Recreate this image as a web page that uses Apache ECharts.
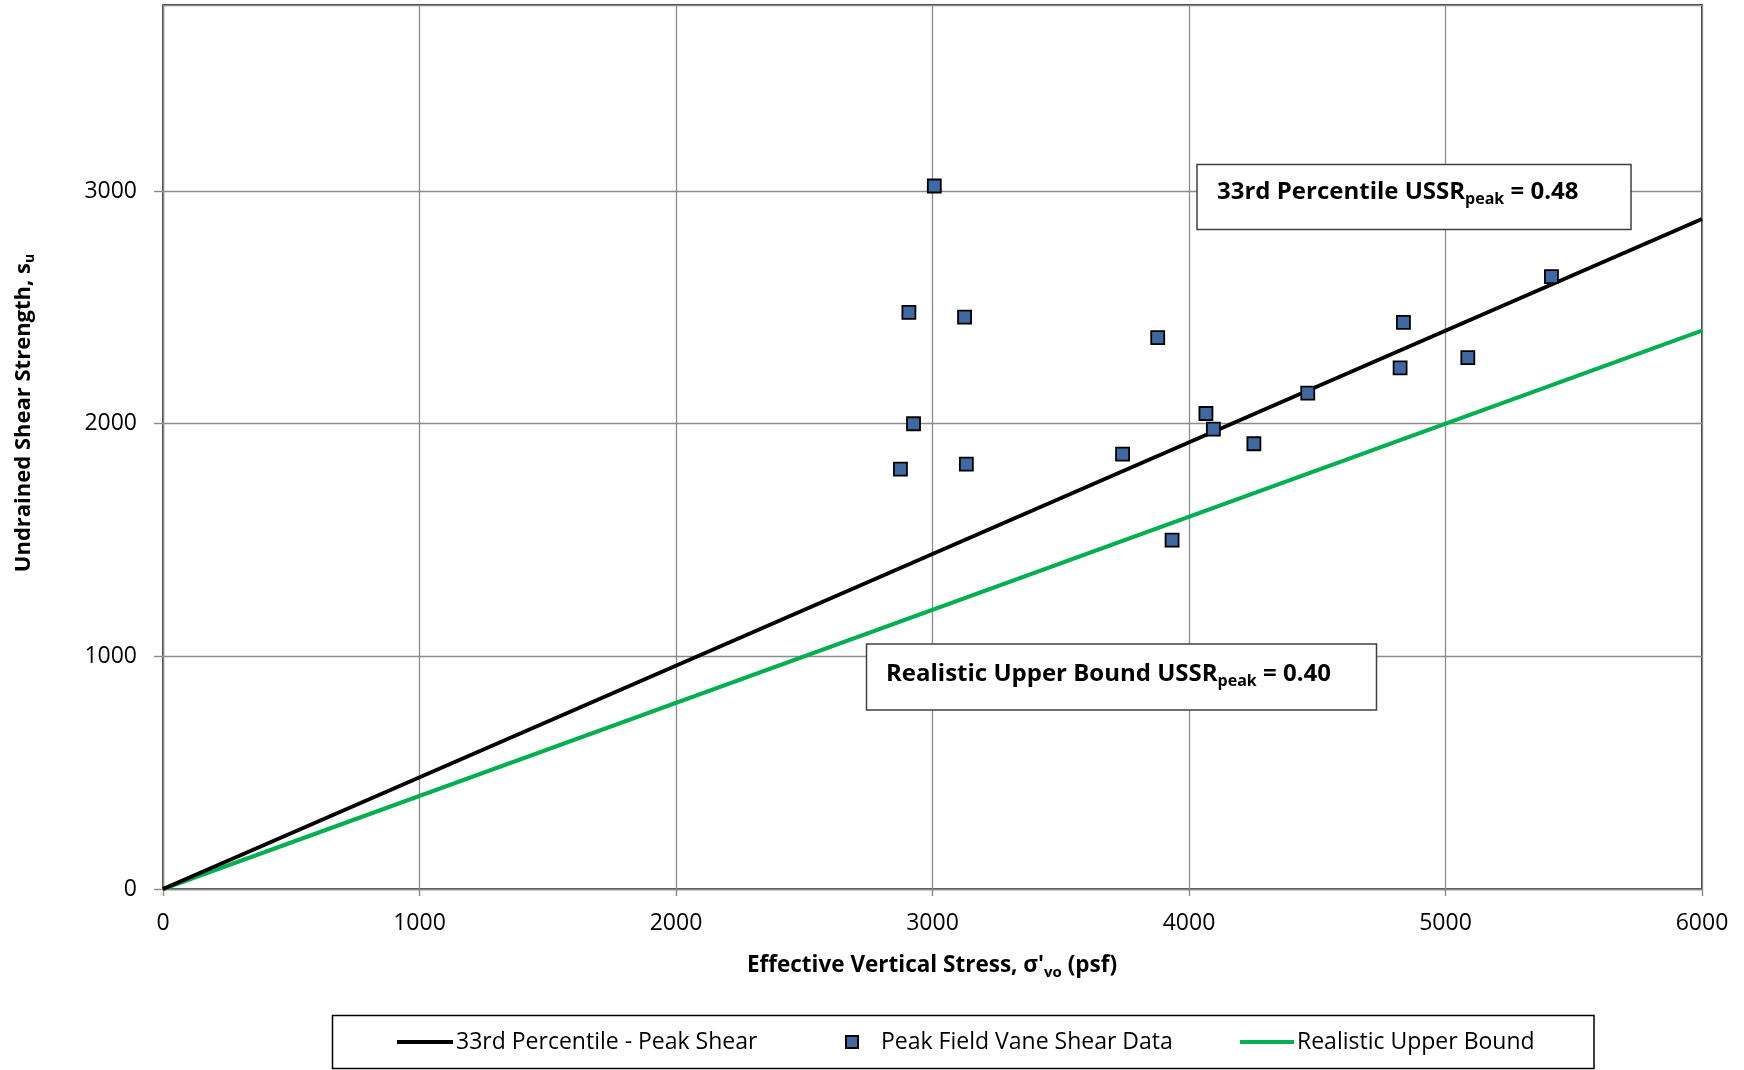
<!DOCTYPE html>
<html>
<head>
<meta charset="utf-8">
<title>Undrained Shear Strength vs Effective Vertical Stress</title>
<script src="https://cdn.jsdelivr.net/npm/echarts@6/dist/echarts.min.js"></script>
<style>
  html, body { margin: 0; padding: 0; background: #ffffff; }
  #chart { width: 1744px; height: 1070px; }
</style>
</head>
<body>
<div id="chart"></div>
<script>
// Peak field vane shear tests: effective vertical stress (psf) and undrained shear strength (psf)
const fieldVaneStress   = [3007, 2908, 3125, 3878, 2926, 2875, 3132, 3741, 4066, 4095, 4253, 3934, 4463, 4836, 4823, 5087, 5413];
const fieldVaneStrength = [3022, 2479, 2458, 2370, 2000, 1805, 1826, 1869, 2044, 1977, 1914, 1500, 2132, 2436, 2240, 2284, 2632];

// Strength-ratio lines (USSR_peak = 0.48 and 0.40), end points in psf
const percentile33Line = [[0, 0], [6000, 2880]];
const upperBoundLine   = [[0, 0], [6000, 2400]];

// Axis ranges and tick labels
const xTicks = [0, 1000, 2000, 3000, 4000, 5000, 6000];
const yTicks = [0, 1000, 2000, 3000];
const xMax = 6000;
const yMax = 3800;

const seriesNames = ['33rd Percentile - Peak Shear', 'Peak Field Vane Shear Data', 'Realistic Upper Bound'];

const FONT = '"Open Sans", "Noto Sans", sans-serif';
const GRID_COLOR = '#8c8c8c';

const chart = echarts.init(document.getElementById('chart'), null, { renderer: 'canvas' });

const scatterData = fieldVaneStress.map((x, i) => [x, fieldVaneStrength[i]]);

const legendText = { color: '#000', fontFamily: FONT, fontSize: 23, lineHeight: 26 };

const option = {
  animation: false,
  backgroundColor: '#ffffff',
  grid: {
    left: 163, right: 42, top: 5, bottom: 181,
    show: true, borderColor: '#000', borderWidth: 1.5,
    containLabel: false, outerBoundsMode: 'none'
  },
  xAxis: {
    type: 'value', min: 0, max: xMax, interval: 1000,
    axisLine: { show: true, onZero: false, lineStyle: { color: '#898989', width: 1.4 } },
    axisTick: { show: true, length: 7, lineStyle: { color: '#898989', width: 1.4 } },
    axisLabel: {
      margin: 23, color: '#000', fontFamily: FONT, fontSize: 23,
      formatter: v => (xTicks.indexOf(v) >= 0 ? String(v) : '')
    },
    splitLine: { show: true, lineStyle: { color: GRID_COLOR, width: 1.3 } }
  },
  yAxis: {
    type: 'value', min: 0, max: yMax, interval: 1000,
    axisLine: { show: true, onZero: false, lineStyle: { color: '#898989', width: 1.4 } },
    axisTick: { show: true, length: 9, lineStyle: { color: '#898989', width: 1.4 } },
    axisLabel: {
      margin: 26, color: '#000', fontFamily: FONT, fontSize: 23, showMaxLabel: false,
      formatter: v => (yTicks.indexOf(v) >= 0 ? String(v) : '')
    },
    splitLine: { show: true, lineStyle: { color: GRID_COLOR, width: 1.3 } }
  },
  legend: [
    {
      data: [seriesNames[0]], left: 397, top: 1029, selectedMode: false,
      icon: 'rect', itemWidth: 56, itemHeight: 4, itemGap: 0, padding: 0,
      textStyle: Object.assign({ padding: [0, 0, 0, -2] }, legendText)
    },
    {
      data: [seriesNames[1]], left: 845, top: 1029, selectedMode: false,
      itemWidth: 12, itemHeight: 12, itemGap: 0, padding: 0,
      textStyle: Object.assign({ padding: [0, 0, 0, 18] }, legendText)
    },
    {
      data: [seriesNames[2]], left: 1240, top: 1029, selectedMode: false,
      icon: 'rect', itemWidth: 54, itemHeight: 4, itemGap: 0, padding: 0,
      textStyle: Object.assign({ padding: [0, 0, 0, -2] }, legendText)
    }
  ],
  series: [
    {
      name: seriesNames[2], type: 'line', data: upperBoundLine,
      symbol: 'none', z: 2,
      lineStyle: { color: '#00B050', width: 4 },
      itemStyle: { color: '#00B050' }
    },
    {
      name: seriesNames[0], type: 'line', data: percentile33Line,
      symbol: 'none', z: 3,
      lineStyle: { color: '#000000', width: 4 },
      itemStyle: { color: '#000000' }
    },
    {
      name: seriesNames[1], type: 'scatter', data: scatterData,
      symbol: 'rect', symbolSize: 13, z: 4,
      itemStyle: { color: '#3E6AA1', borderColor: '#000000', borderWidth: 1.8, opacity: 1 }
    }
  ],
  graphic: [
    // legend frame
    {
      type: 'rect', z: 0, silent: true,
      shape: { x: 332.5, y: 1015.5, width: 1261.5, height: 53 },
      style: { fill: 'none', stroke: '#000', lineWidth: 1.5 }
    },
    // ratio annotation boxes
    {
      type: 'rect', z: 10, silent: true,
      shape: { x: 1197, y: 164.5, width: 434, height: 65 },
      style: { fill: '#ffffff', stroke: '#404040', lineWidth: 1.5 }
    },
    {
      type: 'text', z: 11, silent: true, x: 1217, y: 192,
      style: {
        text: '{b|33rd Percentile USSR}{s|peak}{b| = 0.48}',
        verticalAlign: 'middle', align: 'left',
        rich: {
          b: { fontFamily: FONT, fontWeight: 'bold', fontSize: 24, fill: '#000', lineHeight: 30 },
          s: { fontFamily: FONT, fontWeight: 'bold', fontSize: 16, fill: '#000', padding: [14, 0, 0, 0], lineHeight: 16 }
        }
      }
    },
    {
      type: 'rect', z: 10, silent: true,
      shape: { x: 866.5, y: 644, width: 510, height: 66 },
      style: { fill: '#ffffff', stroke: '#404040', lineWidth: 1.5 }
    },
    {
      type: 'text', z: 11, silent: true, x: 886, y: 674,
      style: {
        text: '{b|Realistic Upper Bound USSR}{s|peak}{b| = 0.40}',
        verticalAlign: 'middle', align: 'left',
        rich: {
          b: { fontFamily: FONT, fontWeight: 'bold', fontSize: 24, fill: '#000', lineHeight: 30 },
          s: { fontFamily: FONT, fontWeight: 'bold', fontSize: 16, fill: '#000', padding: [14, 0, 0, 0], lineHeight: 16 }
        }
      }
    },
    // axis titles
    {
      type: 'text', z: 11, silent: true, x: 932, y: 966,
      style: {
        text: "{b|Effective Vertical Stress, σ'}{s|vo}{b| (psf)}",
        align: 'center', verticalAlign: 'middle',
        rich: {
          b: { fontFamily: FONT, fontWeight: 'bold', fontSize: 22.5, fill: '#000', lineHeight: 30 },
          s: { fontFamily: FONT, fontWeight: 'bold', fontSize: 15, fill: '#000', padding: [13, 0, 0, 0], lineHeight: 15 }
        }
      }
    },
    {
      type: 'text', z: 11, silent: true, x: 24, y: 413, rotation: Math.PI / 2,
      style: {
        text: '{b|Undrained Shear Strength, s}{s|u}',
        align: 'center', verticalAlign: 'middle',
        rich: {
          b: { fontFamily: FONT, fontWeight: 'bold', fontSize: 22, fill: '#000', lineHeight: 28 },
          s: { fontFamily: FONT, fontWeight: 'bold', fontSize: 14, fill: '#000', padding: [12, 0, 0, 0], lineHeight: 14 }
        }
      }
    }
  ]
};

chart.setOption(option);
</script>
</body>
</html>
